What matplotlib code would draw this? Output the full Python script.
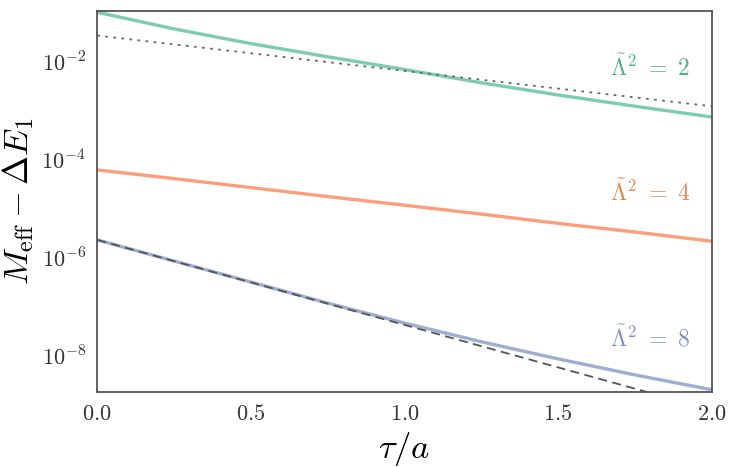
import numpy as np
import matplotlib
matplotlib.use("Agg")
import matplotlib.pyplot as plt
from matplotlib.ticker import FixedLocator, FuncFormatter, NullLocator

plt.rcParams['mathtext.fontset'] = 'cm'
plt.rcParams['font.family'] = 'serif'
plt.rcParams['font.serif'] = ['DejaVu Serif']

# values
tau = [0.0, 0.25, 0.5, 0.75, 1.0, 1.25, 1.5, 1.75, 2.0]
m_lam2 = [1.05e-1, 4.79e-2, 2.4e-2, 1.29e-2, 7.1e-3, 3.8e-3, 2.14e-3, 1.26e-3, 7.6e-4]
m_lam4 = [6.3e-5, 4.2e-5, 2.75e-5, 1.8e-5, 1.2e-5, 7.9e-6, 5.1e-6, 3.4e-6, 2.2e-6]
m_lam8 = [2.35e-6, 8.7e-7, 3.24e-7, 1.2e-7, 4.7e-8, 1.95e-8, 8.7e-9, 4.1e-9, 2.04e-9]

tau_ends = [0.0, 2.0]
dotted_fit = [3.5e-2, 1.26e-3]
dashed_fit = [2.35e-6, 7.9e-10]

labels = [r'$\tilde{\Lambda}^2\ =\ 2$', r'$\tilde{\Lambda}^2\ =\ 4$', r'$\tilde{\Lambda}^2\ =\ 8$']
label_y = [7.6e-3, 2.2e-5, 2.3e-8]
colors = ['#66c2a5', '#fc8d62', '#8da0cb']
text_colors = ['#4fb08c', '#e8844f', '#8090c4']

fig = plt.figure(figsize=(7.3, 4.67), dpi=100)
ax = fig.add_axes([0.133, 0.161, 0.842, 0.815])

ax.plot(tau, m_lam2, color=colors[0], lw=2.4, alpha=0.85)
ax.plot(tau, m_lam4, color=colors[1], lw=2.4, alpha=0.85)
ax.plot(tau, m_lam8, color=colors[2], lw=2.4, alpha=0.85)
ax.plot(tau_ends, dotted_fit, color='#666666', lw=1.3, ls=(0, (1.5, 3)))
ax.plot(tau_ends, dashed_fit, color='#555555', lw=1.3, ls=(0, (5, 3)))

for lab, yy, c in zip(labels, label_y, text_colors):
    ax.text(1.93, yy, lab, color=c, fontsize=17, ha='right', va='center')

ax.set_yscale('log')
ax.set_xlim(0, 2)
ax.set_ylim(1.85e-9, 0.11)

ax.xaxis.set_major_locator(FixedLocator([0, 0.5, 1.0, 1.5, 2.0]))
ax.xaxis.set_major_formatter(FuncFormatter(lambda v, p: r'$%.1f$' % v))
ax.yaxis.set_major_locator(FixedLocator([1e-8, 1e-6, 1e-4, 1e-2]))
ax.yaxis.set_minor_locator(NullLocator())
ax.yaxis.set_major_formatter(FuncFormatter(lambda v, p: r'$10^{%d}$' % round(np.log10(v))))
ax.tick_params(length=0, labelsize=16, pad=8, colors='#333333')

for s in ax.spines.values():
    s.set_color('#555555')
    s.set_linewidth(1.3)

ax.set_xlabel(r'$\tau/a$', fontsize=25, labelpad=4)
ax.set_ylabel(r'$M_{\rm eff} - \Delta E_1$', fontsize=25, labelpad=4)

fig.savefig('out.png', dpi=100)
